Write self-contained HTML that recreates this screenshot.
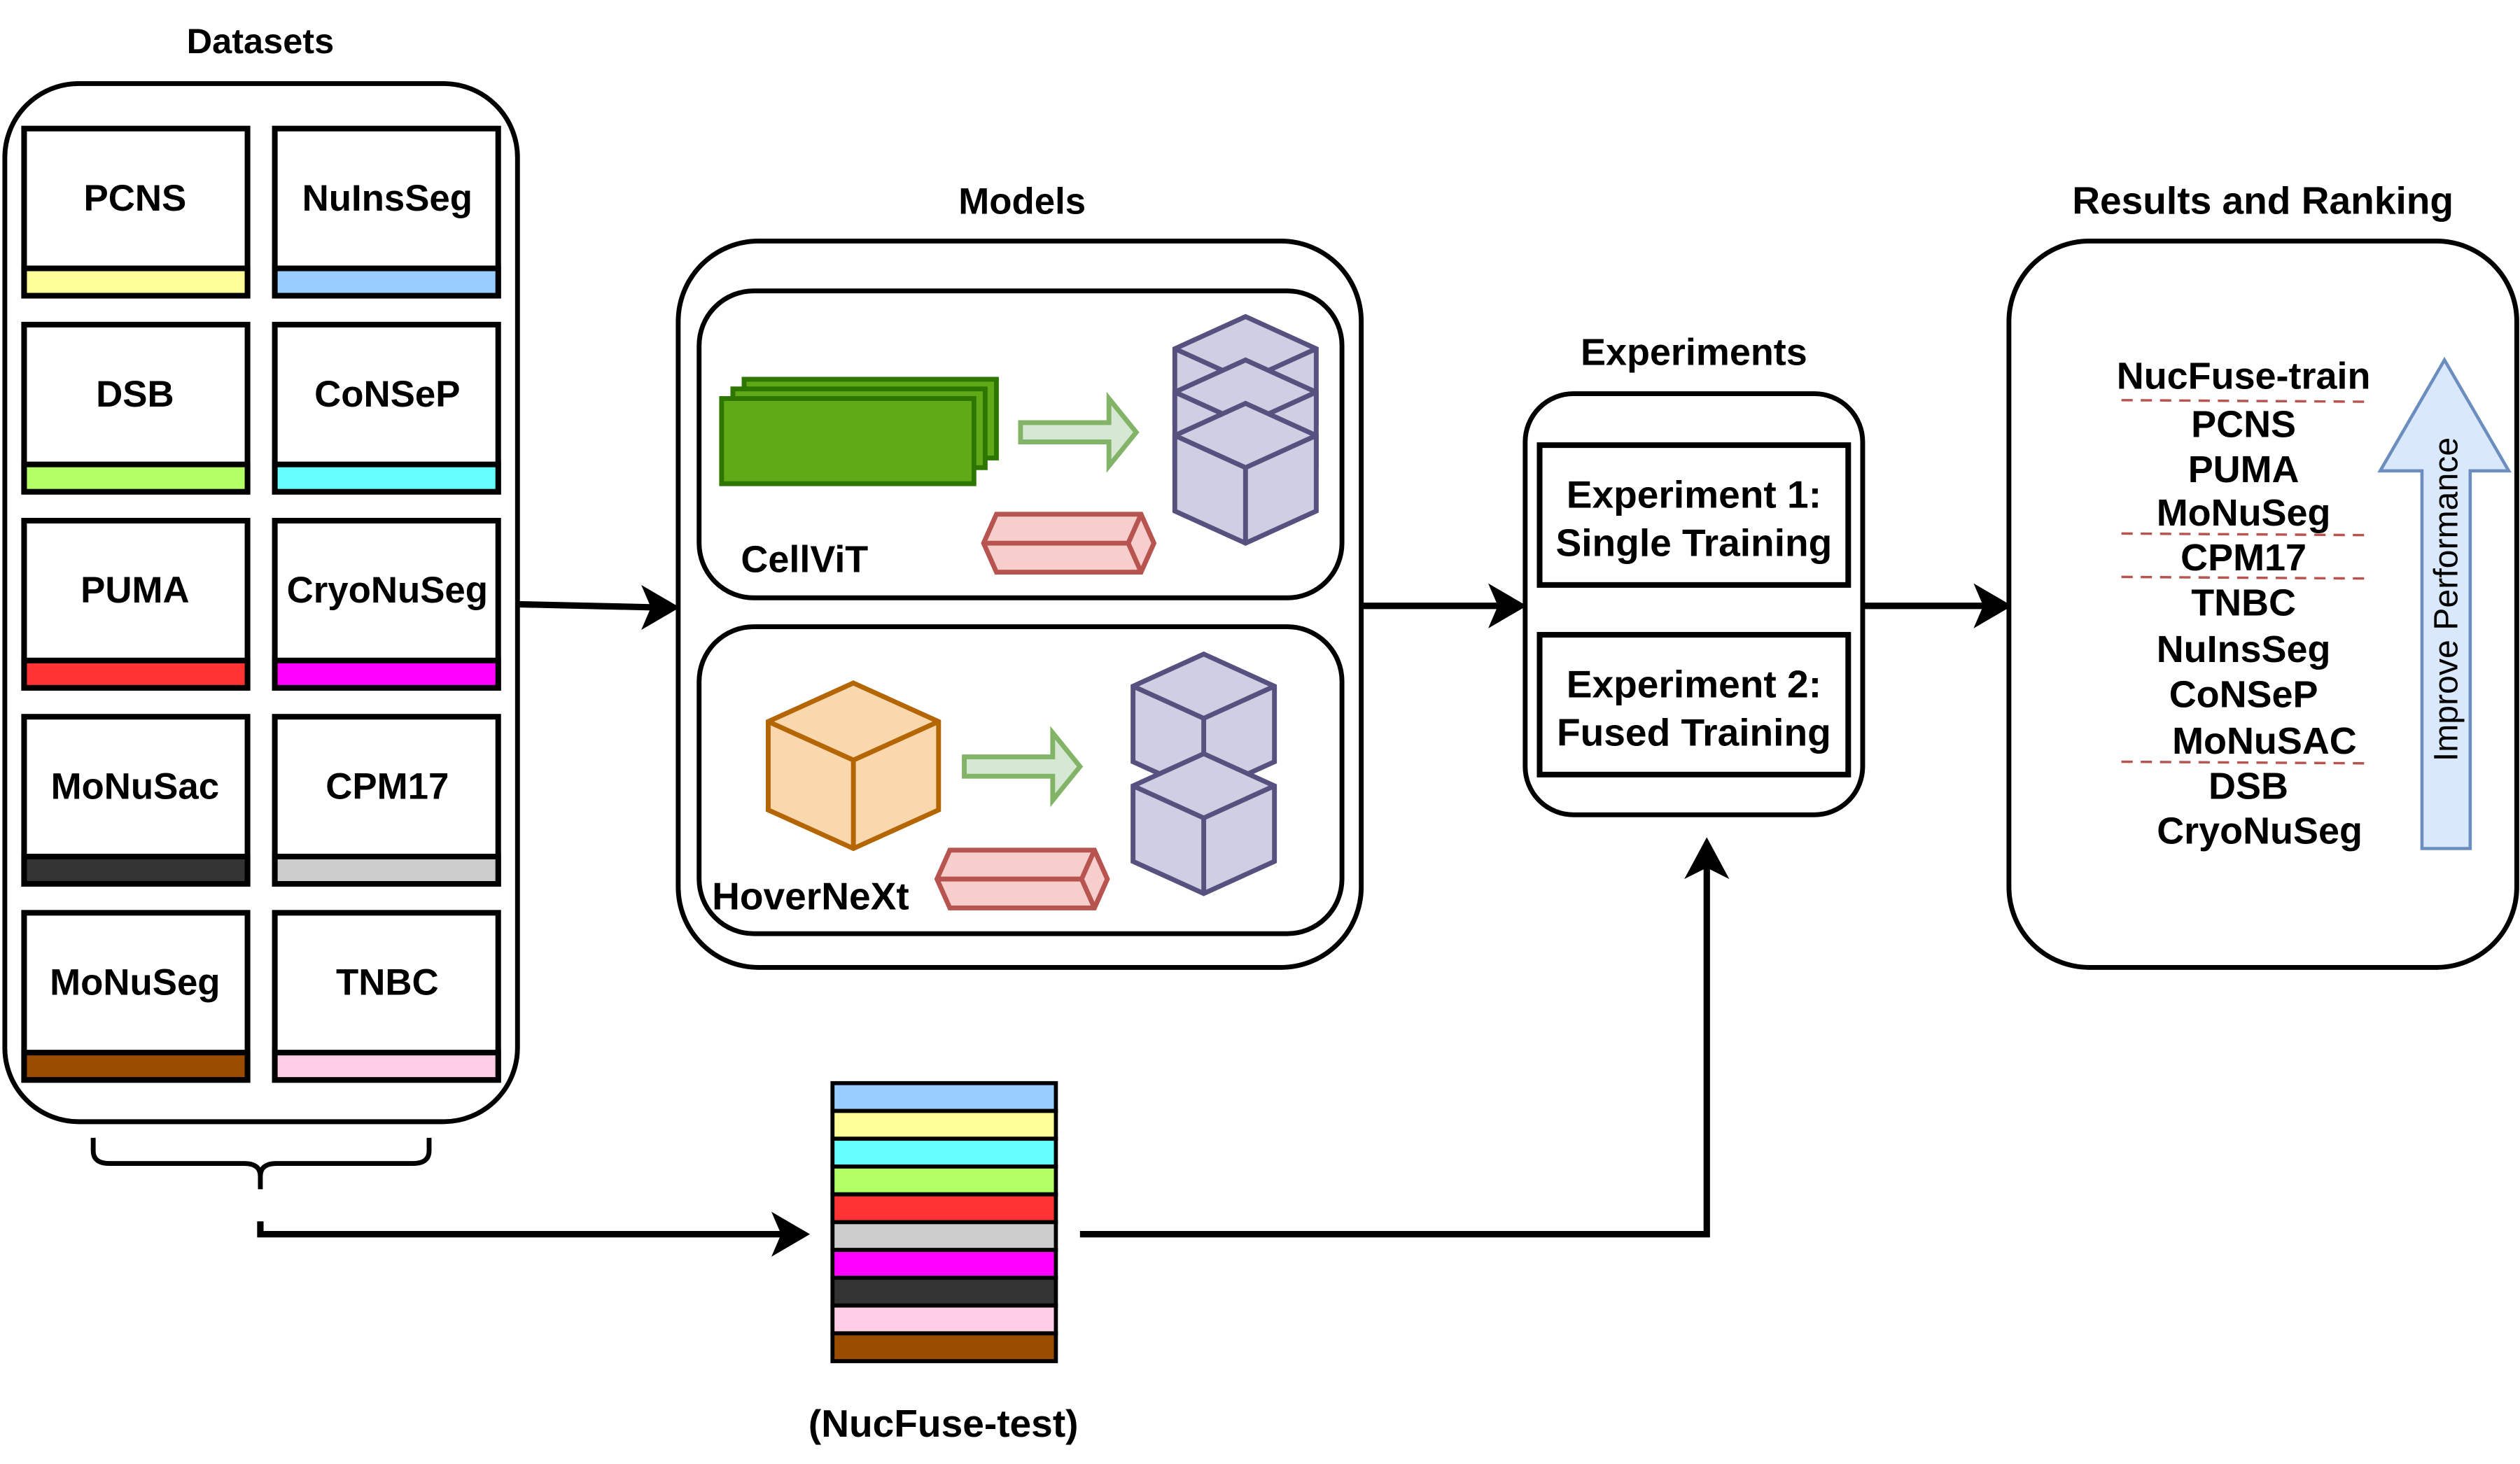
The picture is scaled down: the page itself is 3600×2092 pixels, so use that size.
<!DOCTYPE html>
<html><head><meta charset="utf-8"><style>
html,body{margin:0;padding:0;background:#fff}
svg{display:block}
text{font-family:"Liberation Sans",Arial,sans-serif;font-weight:bold;fill:#000}
</style></head><body>
<svg width="3600" height="2092" viewBox="0 0 1568 911" preserveAspectRatio="none" xmlns="http://www.w3.org/2000/svg">
<defs>
<g id="pcube">
<polygon points="44,0 88,20 88,67 44,87 0,67 0,20" fill="#d0cee2" stroke="#56517e" stroke-width="3" stroke-linejoin="miter"/>
<polyline points="0,20 44,40 88,20" fill="none" stroke="#56517e" stroke-width="3"/>
<line x1="44" y1="40" x2="44" y2="87" stroke="#56517e" stroke-width="3"/>
</g>
<g id="pink">
<polygon points="0,18 8,0 98,0 106,18 98,36 8,36" fill="#f8cecc" stroke="#b85450" stroke-width="3"/>
<polyline points="0,18 90,18" fill="none" stroke="#b85450" stroke-width="3"/>
<polyline points="98,0 90,18 98,36" fill="none" stroke="#b85450" stroke-width="3"/>
</g>
<g id="garrow">
<polygon points="0,-6 55,-6 55,-21 72,0 55,21 55,6 0,6" fill="#d5e8d4" stroke="#82b366" stroke-width="3"/>
</g>
</defs>

<!-- Titles -->
<text x="162" y="33" font-size="22" text-anchor="middle">Datasets</text>
<text x="636" y="133" font-size="23" text-anchor="middle">Models</text>
<text x="1054" y="227" font-size="23.5" text-anchor="middle">Experiments</text>
<text x="1408" y="133" font-size="24" text-anchor="middle">Results and Ranking</text>

<!-- Datasets container -->
<rect x="3" y="52" width="319" height="646" rx="46" fill="#fff" stroke="#000" stroke-width="3"/>
<g stroke="#000" stroke-width="3.5">
<rect x="15" y="80" width="139" height="104" fill="#fff"/><rect x="15" y="167" width="139" height="17" fill="#ffff99"/>
<rect x="171" y="80" width="139" height="104" fill="#fff"/><rect x="171" y="167" width="139" height="17" fill="#99ccff"/>
<rect x="15" y="202" width="139" height="104" fill="#fff"/><rect x="15" y="289" width="139" height="17" fill="#b3ff66"/>
<rect x="171" y="202" width="139" height="104" fill="#fff"/><rect x="171" y="289" width="139" height="17" fill="#66ffff"/>
<rect x="15" y="324" width="139" height="104" fill="#fff"/><rect x="15" y="411" width="139" height="17" fill="#ff3333"/>
<rect x="171" y="324" width="139" height="104" fill="#fff"/><rect x="171" y="411" width="139" height="17" fill="#ff00ff"/>
<rect x="15" y="446" width="139" height="104" fill="#fff"/><rect x="15" y="533" width="139" height="17" fill="#333333"/>
<rect x="171" y="446" width="139" height="104" fill="#fff"/><rect x="171" y="533" width="139" height="17" fill="#cccccc"/>
<rect x="15" y="568" width="139" height="104" fill="#fff"/><rect x="15" y="655" width="139" height="17" fill="#994c00"/>
<rect x="171" y="568" width="139" height="104" fill="#fff"/><rect x="171" y="655" width="139" height="17" fill="#ffcce6"/>
</g>
<g font-size="23" text-anchor="middle">
<text x="84" y="131">PCNS</text><text x="241" y="131">NuInsSeg</text>
<text x="84" y="253">DSB</text><text x="241" y="253">CoNSeP</text>
<text x="84" y="375">PUMA</text><text x="241" y="375">CryoNuSeg</text>
<text x="84" y="497">MoNuSac</text><text x="241" y="497">CPM17</text>
<text x="84" y="619">MoNuSeg</text><text x="241" y="619">TNBC</text>
</g>

<!-- Brace -->
<path d="M58,708 V716 Q58,724 68,724 H152 Q162,724 162,732 V740 M267,708 V716 Q267,724 257,724 H172 Q162,724 162,732" fill="none" stroke="#000" stroke-width="3"/>
<path d="M162,760 V768 H490" fill="none" stroke="#000" stroke-width="4"/>
<polygon points="504,768 480,754 486,768 480,782" fill="#000"/>

<path d="M322,376 L410,378" stroke="#000" stroke-width="4"/>
<polygon points="423,378 399,364 405,378 399,392" fill="#000"/>

<!-- Models -->
<rect x="422" y="150" width="425" height="452" rx="50" fill="#fff" stroke="#000" stroke-width="3"/>
<rect x="435" y="181" width="400" height="191" rx="34" fill="#fff" stroke="#000" stroke-width="3"/>
<rect x="435" y="390" width="400" height="191" rx="34" fill="#fff" stroke="#000" stroke-width="3"/>

<g stroke="#2d7600" stroke-width="3" fill="#60a917">
<rect x="463" y="236" width="157" height="49"/>
<rect x="456" y="242" width="157" height="49"/>
<rect x="449" y="248" width="157" height="53"/>
</g>
<use href="#garrow" x="635" y="269"/>
<use href="#pcube" x="731" y="197"/>
<use href="#pcube" x="731" y="224"/>
<use href="#pcube" x="731" y="251"/>
<use href="#pink" x="612" y="320"/>
<text x="461" y="356" font-size="23.5">CellViT</text>

<polygon points="531,425 584,449 584,504 531,528 478,504 478,449" fill="#fad7ac" stroke="#b46504" stroke-width="3"/>
<polyline points="478,449 531,473 584,449" fill="none" stroke="#b46504" stroke-width="3"/>
<line x1="531" y1="473" x2="531" y2="528" stroke="#b46504" stroke-width="3"/>
<use href="#garrow" x="600" y="477"/>
<use href="#pcube" x="705" y="407"/>
<use href="#pcube" x="705" y="469"/>
<use href="#pink" x="583" y="529"/>
<text x="443" y="566" font-size="24">HoverNeXt</text>

<path d="M847,377 H936" stroke="#000" stroke-width="4"/>
<polygon points="950,377 926,363 932,377 926,391" fill="#000"/>

<!-- Experiments -->
<rect x="949" y="245" width="210" height="262" rx="30" fill="#fff" stroke="#000" stroke-width="3"/>
<rect x="958" y="277" width="192" height="87" fill="#fff" stroke="#000" stroke-width="3.5"/>
<rect x="958" y="395" width="192" height="87" fill="#fff" stroke="#000" stroke-width="3.5"/>
<g font-size="24" text-anchor="middle">
<text x="1054" y="316">Experiment 1:</text>
<text x="1054" y="346">Single Training</text>
<text x="1054" y="434">Experiment 2:</text>
<text x="1054" y="464">Fused Training</text>
</g>

<path d="M1159,377 H1238" stroke="#000" stroke-width="4"/>
<polygon points="1252,377 1228,363 1234,377 1228,391" fill="#000"/>

<!-- Results -->
<rect x="1250" y="150" width="316" height="452" rx="50" fill="#fff" stroke="#000" stroke-width="3"/>
<g font-size="23.5" text-anchor="middle">
<text x="1396" y="242">NucFuse-train</text>
<text x="1396" y="272">PCNS</text>
<text x="1396" y="300">PUMA</text>
<text x="1396" y="327">MoNuSeg</text>
<text x="1396" y="355">CPM17</text>
<text x="1396" y="383">TNBC</text>
<text x="1396" y="412">NuInsSeg</text>
<text x="1396" y="440">CoNSeP</text>
<text x="1409" y="469">MoNuSAC</text>
<text x="1399" y="497">DSB</text>
<text x="1406" y="525">CryoNuSeg</text>
</g>
<g stroke="#b85450" stroke-width="1.5" stroke-dasharray="7,5">
<line x1="1320" y1="249" x2="1474" y2="250"/>
<line x1="1320" y1="332" x2="1474" y2="333"/>
<line x1="1320" y1="359" x2="1474" y2="360"/>
<line x1="1320" y1="474" x2="1474" y2="475"/>
</g>
<polygon points="1521,224 1561,293 1537,293 1537,528 1507,528 1507,293 1481,293" fill="#dae8fc" stroke="#6c8ebf" stroke-width="2"/>
<text x="0" y="0" font-size="21" style="font-weight:normal" text-anchor="middle" transform="translate(1529,373) rotate(-90)">Improve Performance</text>

<!-- Stack -->
<g stroke="#000" stroke-width="2.5">
<rect x="518" y="674" width="139" height="17.3" fill="#99ccff"/>
<rect x="518" y="691.3" width="139" height="17.3" fill="#ffff99"/>
<rect x="518" y="708.6" width="139" height="17.3" fill="#66ffff"/>
<rect x="518" y="725.9" width="139" height="17.3" fill="#b3ff66"/>
<rect x="518" y="743.2" width="139" height="17.3" fill="#ff3333"/>
<rect x="518" y="760.5" width="139" height="17.3" fill="#cccccc"/>
<rect x="518" y="777.8" width="139" height="17.3" fill="#ff00ff"/>
<rect x="518" y="795.1" width="139" height="17.3" fill="#333333"/>
<rect x="518" y="812.4" width="139" height="17.3" fill="#ffcce6"/>
<rect x="518" y="829.7" width="139" height="17.3" fill="#994c00"/>
</g>
<text x="587" y="894" font-size="24" text-anchor="middle">(NucFuse-test)</text>

<path d="M672,768 H1062 V536" fill="none" stroke="#000" stroke-width="4"/>
<polygon points="1062,521 1048,547 1062,540 1076,547" fill="#000"/>
</svg>
</body></html>
